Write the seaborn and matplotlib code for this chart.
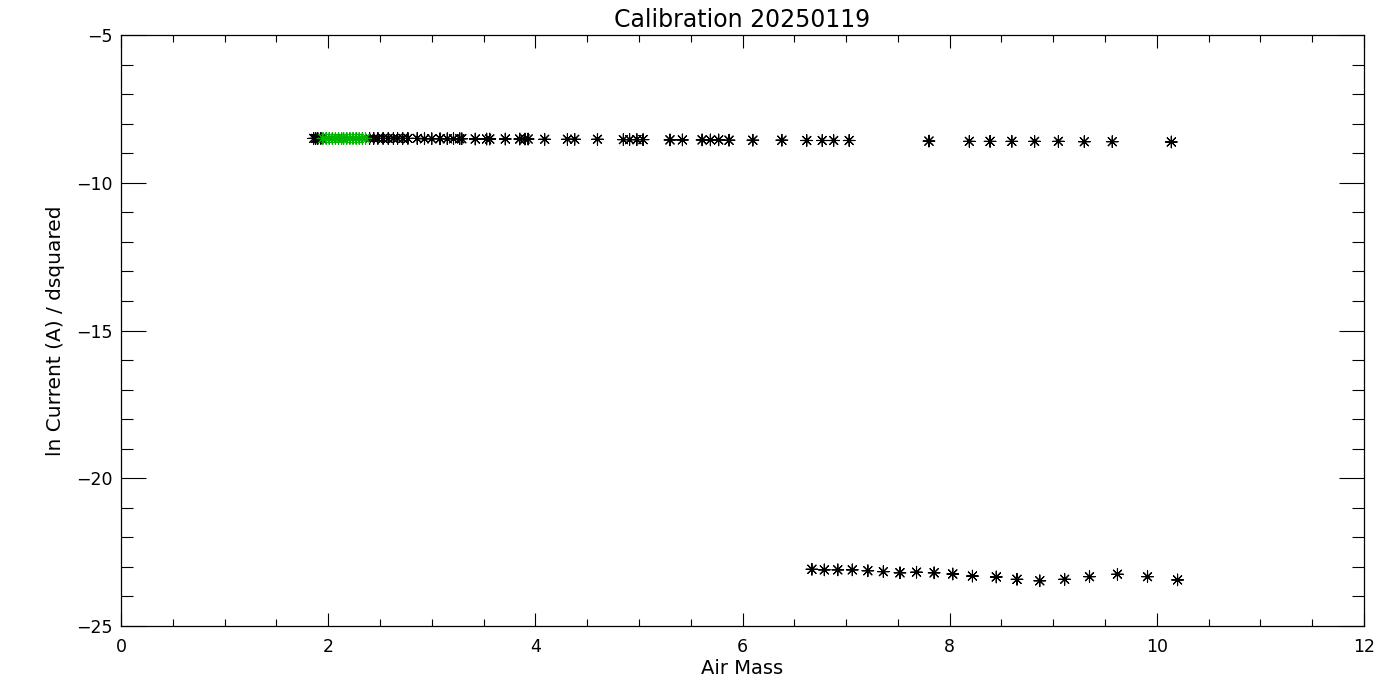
"""
Calibration plot: ln current vs air mass, IDL-style look.
"""
import numpy as np
import pandas as pd
import seaborn as sns
import matplotlib
matplotlib.use("Agg")
import matplotlib.pyplot as plt
from matplotlib.ticker import MultipleLocator

# upper branch, all points (black)
upper_airmass = [1.86, 1.88, 1.90, 1.93,
                 2.40, 2.44, 2.48, 2.53, 2.58, 2.63, 2.67, 2.72, 2.77, 2.86,
                 2.93, 3.00, 3.08, 3.15, 3.21, 3.27, 3.29, 3.42, 3.53, 3.56,
                 3.71, 3.85, 3.90, 3.93, 4.09, 4.31, 4.38, 4.60, 4.85, 4.91,
                 4.98, 5.04, 5.30, 5.42, 5.61, 5.69, 5.77, 5.87, 6.10, 6.38,
                 6.62, 6.77, 6.88, 7.03, 7.80, 8.19, 8.39, 8.60, 8.82, 9.05,
                 9.30, 9.57, 10.14]
upper_lncur = [-8.50, -8.50, -8.50, -8.50,
               -8.50, -8.50, -8.50, -8.50, -8.50, -8.50, -8.50, -8.50, -8.50, -8.50,
               -8.51, -8.51, -8.51, -8.51, -8.51, -8.51, -8.51, -8.52, -8.52, -8.52,
               -8.52, -8.52, -8.52, -8.52, -8.53, -8.53, -8.53, -8.53, -8.54, -8.54,
               -8.54, -8.54, -8.55, -8.55, -8.55, -8.55, -8.55, -8.56, -8.56, -8.56,
               -8.57, -8.57, -8.57, -8.57, -8.59, -8.60, -8.60, -8.60, -8.60, -8.60,
               -8.61, -8.61, -8.62]

# points used in the fit (green)
fit_airmass = [1.95, 1.98, 2.01, 2.04, 2.07, 2.10, 2.13, 2.15, 2.18, 2.21,
               2.24, 2.27, 2.30, 2.33, 2.36]
fit_lncur = [-8.50] * 15

# lower branch (black)
lower_airmass = [6.67, 6.79, 6.92, 7.06, 7.21, 7.36, 7.52, 7.68, 7.85, 8.03,
                 8.22, 8.45, 8.65, 8.87, 9.11, 9.35, 9.62, 9.91, 10.20]
lower_lncur = [-23.08, -23.10, -23.10, -23.10, -23.13, -23.16, -23.20, -23.18,
               -23.20, -23.24, -23.31, -23.34, -23.42, -23.47, -23.42, -23.33,
               -23.25, -23.33, -23.44]

df = pd.DataFrame({
    "airmass": upper_airmass + lower_airmass + fit_airmass,
    "lncur": upper_lncur + lower_lncur + fit_lncur,
    "group": (["all"] * (len(upper_airmass) + len(lower_airmass))
              + ["fit"] * len(fit_airmass)),
})

sns.set_style("ticks")
plt.rcParams["font.family"] = ["DejaVu Sans"]
plt.rcParams["text.color"] = "black"
plt.rcParams["axes.labelcolor"] = "black"
plt.rcParams["xtick.color"] = "black"
plt.rcParams["ytick.color"] = "black"

fig = plt.figure(figsize=(14, 7), dpi=100)
ax = fig.add_axes([121 / 1400, 1 - 626 / 700, (1364 - 121) / 1400, (626 - 35) / 700])

star = (8, 2, 0)
sns.scatterplot(
    data=df, x="airmass", y="lncur", hue="group",
    palette={"all": "black", "fit": "#00B400"},
    marker=star, s=70, linewidth=0.8, legend=False, ax=ax,
)

ax.set_xlim(0, 12)
ax.set_ylim(-25, -5)
ax.xaxis.set_major_locator(MultipleLocator(2))
ax.xaxis.set_minor_locator(MultipleLocator(0.5))
ax.yaxis.set_major_locator(MultipleLocator(5))
ax.yaxis.set_minor_locator(MultipleLocator(1))

ax.tick_params(which="both", direction="in", top=True, right=True,
               labelsize=12.5, width=0.8)
ax.tick_params(axis="x", which="major", length=9.5, pad=9)
ax.tick_params(axis="x", which="minor", length=4.7)
ax.tick_params(axis="y", which="major", length=18, pad=6)
ax.tick_params(axis="y", which="minor", length=8.6)

for sp in ax.spines.values():
    sp.set_linewidth(0.9)
    sp.set_color("black")

ax.set_xlabel("Air Mass", fontsize=14, labelpad=2)
ax.set_ylabel("ln Current (A) / dsquared", fontsize=14.5, labelpad=8)
ax.set_title("Calibration 20250119", fontsize=17, pad=6)

fig.savefig("out.png", dpi=100)
plt.close(fig)
